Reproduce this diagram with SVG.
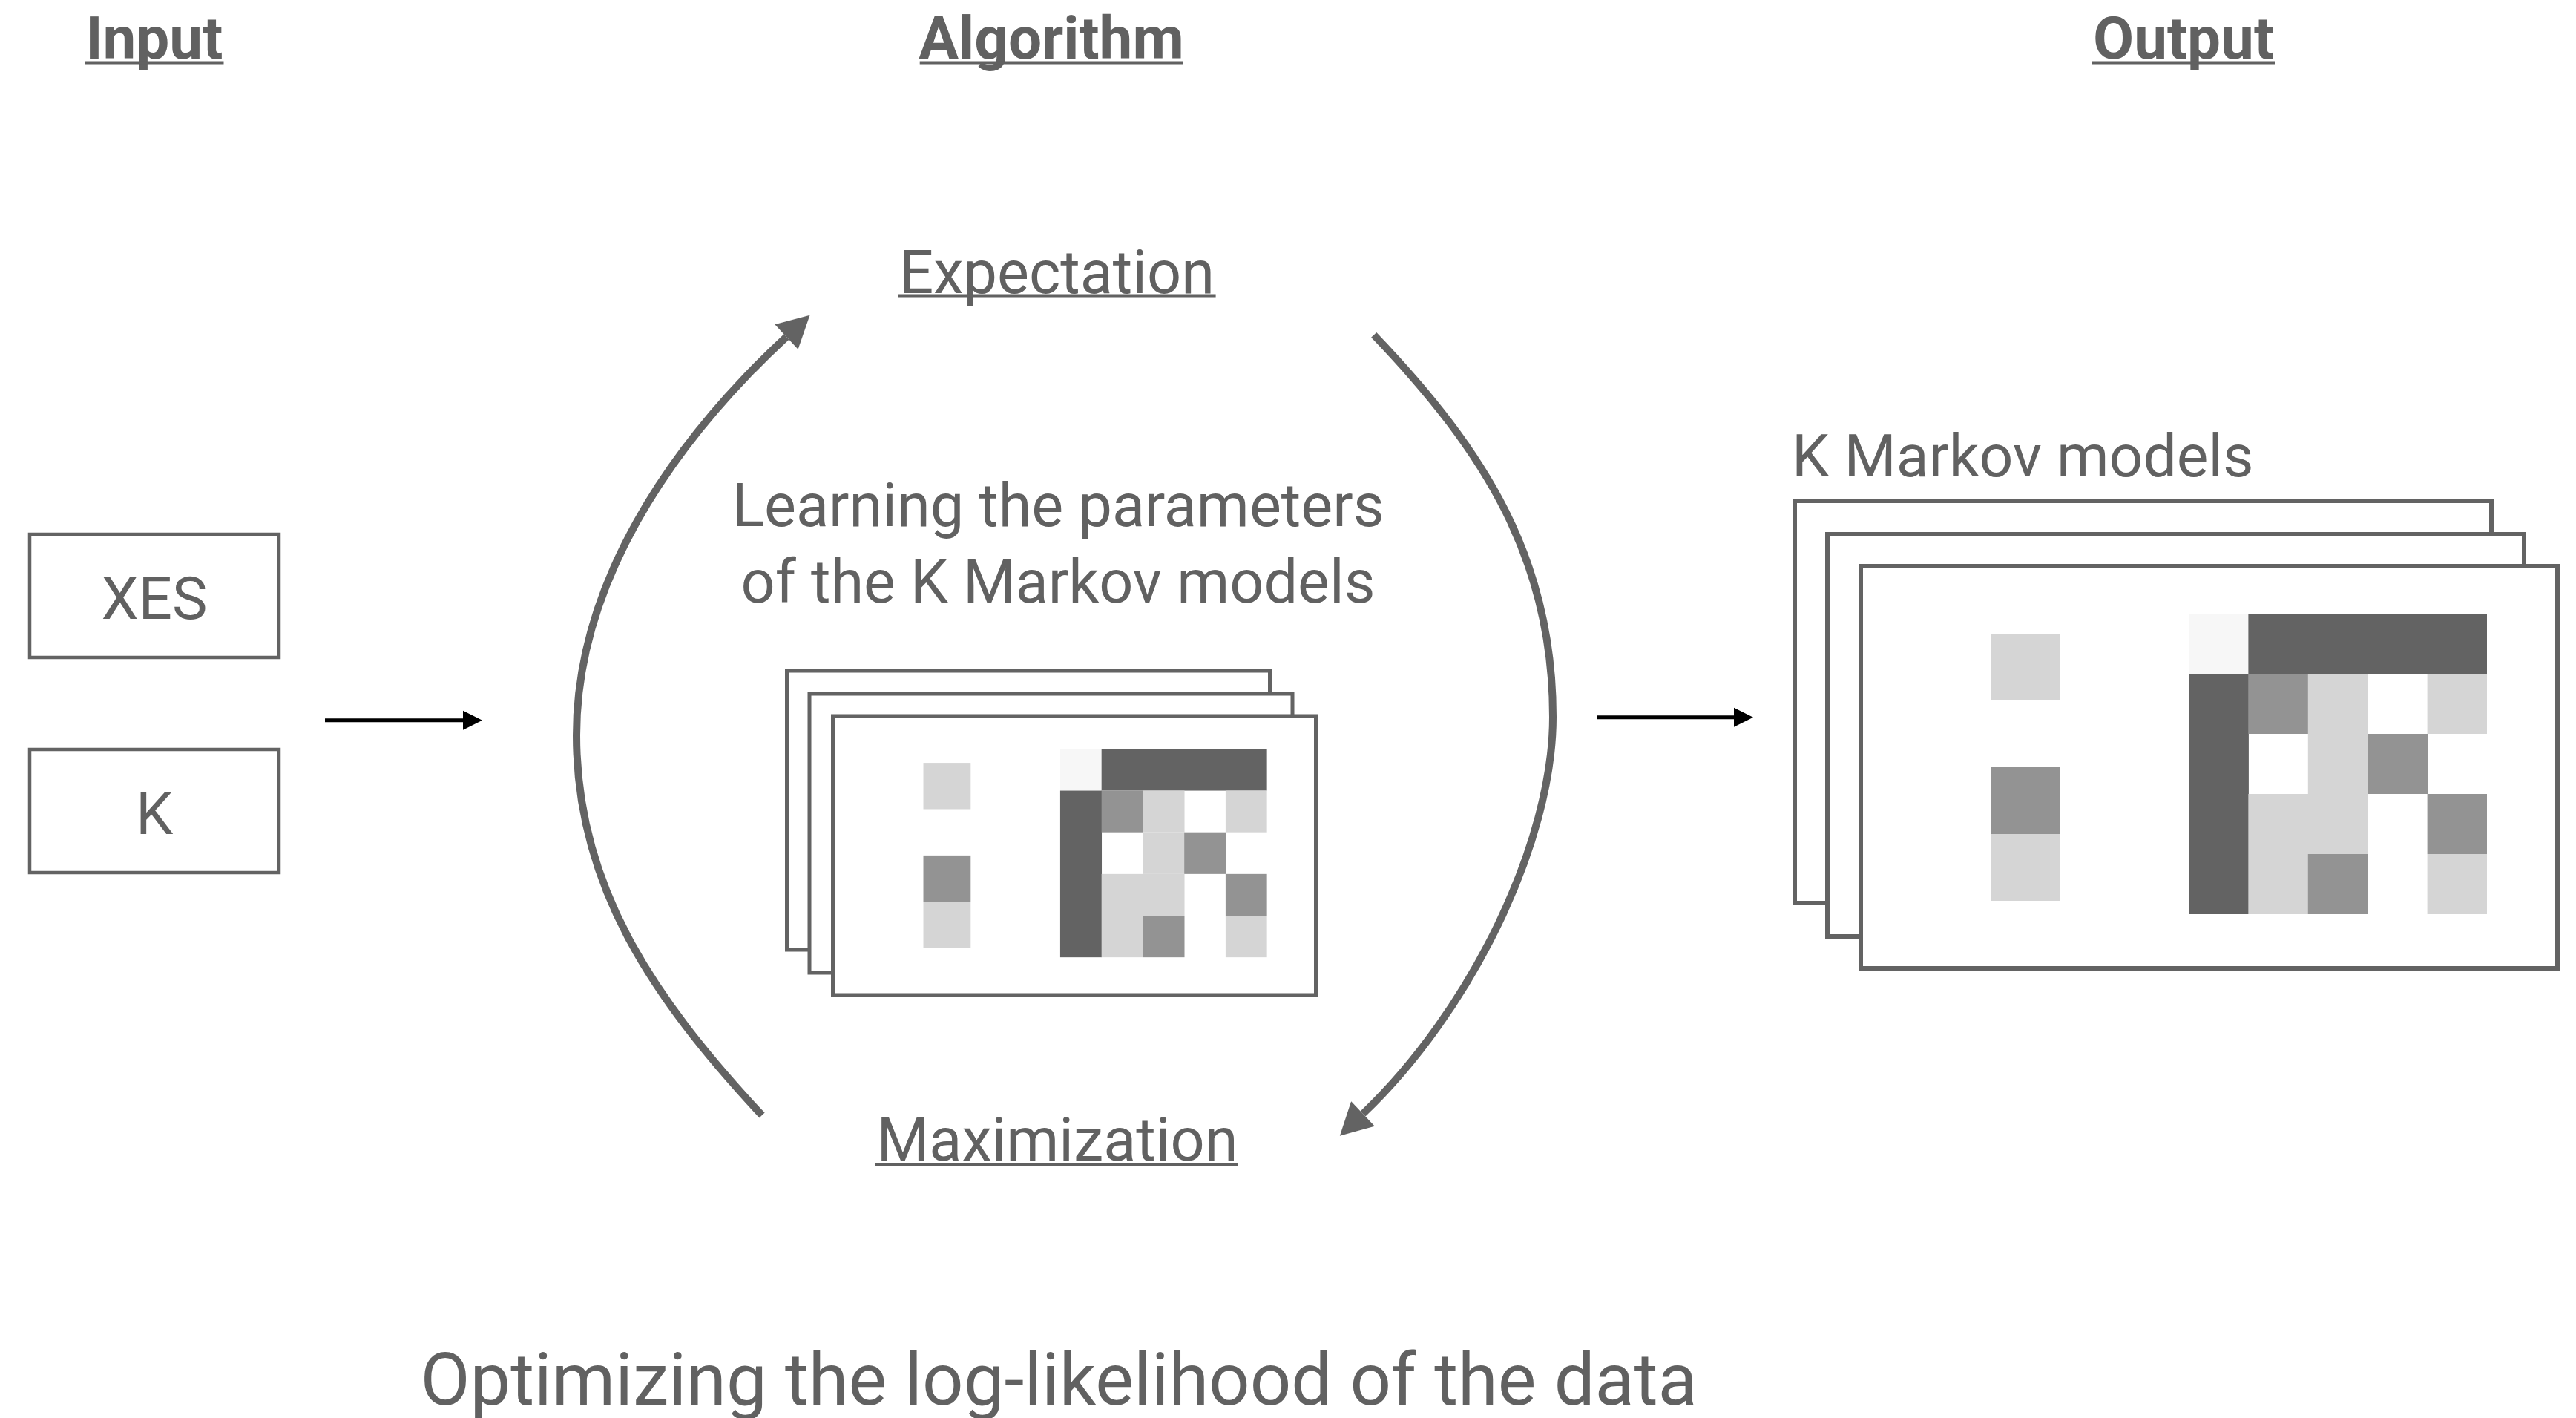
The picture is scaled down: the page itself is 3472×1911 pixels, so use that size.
<svg xmlns="http://www.w3.org/2000/svg" xmlns:xlink="http://www.w3.org/1999/xlink" width="3472" height="1911" viewBox="0 0 3472 1911">
<style>
  text { font-family: Roboto, "Liberation Sans", sans-serif; fill: #616161; }
  .title { font-size: 80px; font-weight: 700; text-anchor: middle; }
  .lbl { font-size: 81px; font-weight: 400; text-anchor: middle; }
  .ul { fill: #616161; }
  .box { fill: #ffffff; stroke: #636363; stroke-width: 4.5; }
  .card { fill: #ffffff; stroke: #636363; stroke-width: 5; }
  .bigcard { fill: #ffffff; stroke: #636363; stroke-width: 6; }
  .arc { fill: none; stroke: #636363; stroke-width: 10; }
  .flow { fill: none; stroke: #000000; stroke-width: 5; }
  .dk { fill: #636363; } .md { fill: #939393; } .lt { fill: #d5d5d5; } .vl { fill: #f7f7f7; }
</style>
<defs>
  <marker id="blackHead" markerUnits="userSpaceOnUse" markerWidth="30" markerHeight="30" refX="0" refY="13" orient="auto" overflow="visible">
    <path d="M0,0 L26,13 L0,26 Z" fill="#000000"/>
  </marker>
  <marker id="grayHead" markerUnits="userSpaceOnUse" markerWidth="50" markerHeight="50" refX="0" refY="23" orient="auto" overflow="visible">
    <path d="M0,0 L43,23 L0,46 Z" fill="#636363"/>
  </marker>
  <g id="cardContent">
    <rect class="lt" x="176" y="91" width="92" height="90"/>
    <rect class="md" x="176" y="271" width="92" height="91"/>
    <rect class="lt" x="176" y="361" width="92" height="90"/>
    <rect class="vl" x="442" y="64" width="81" height="81"/>
    <rect class="dk" x="522.4" y="64" width="321.6" height="81"/>
    <rect class="dk" x="442" y="145" width="80.9" height="324"/>
    <rect class="md" x="522.4" y="145" width="80.9" height="81"/>
    <rect class="lt" x="602.8" y="145" width="80.9" height="81"/>
    <rect class="lt" x="763.6" y="145" width="80.4" height="81"/>
    <rect class="lt" x="602.8" y="226" width="80.9" height="81"/>
    <rect class="md" x="683.2" y="226" width="80.9" height="81"/>
    <rect class="lt" x="522.4" y="307" width="161.3" height="81"/>
    <rect class="md" x="763.6" y="307" width="80.4" height="81"/>
    <rect class="lt" x="522.4" y="388" width="80.9" height="81"/>
    <rect class="md" x="602.8" y="388" width="80.9" height="81"/>
    <rect class="lt" x="763.6" y="388" width="80.4" height="81"/>
  </g>
</defs>

<rect x="0" y="0" width="3472" height="1911" fill="#ffffff"/>

<g id="header-input">
  <text class="title" x="207.7" y="79">Input</text>
  <rect class="ul" x="114" y="82.5" width="187.5" height="4"/>
</g>
<g id="header-algorithm">
  <text class="title" x="1417" y="79">Algorithm</text>
  <rect class="ul" x="1239.7" y="82.5" width="354.7" height="4"/>
</g>
<g id="header-output">
  <text class="title" x="2943" y="79">Output</text>
  <rect class="ul" x="2820" y="82.5" width="246" height="4"/>
</g>

<g id="node-xes">
  <rect class="box" x="40" y="720" width="336" height="166"/>
  <text class="lbl" x="208" y="834" style="font-size:80px">XES</text>
</g>
<g id="node-k">
  <rect class="box" x="40" y="1010" width="336" height="166"/>
  <text class="lbl" x="208" y="1124" style="font-size:80px">K</text>
</g>

<g id="node-expectation">
  <text class="lbl" x="1424.6" y="395">Expectation</text>
  <rect class="ul" x="1210.6" y="396.5" width="428" height="4"/>
</g>

<g id="node-learning">
  <text class="lbl" x="1426" y="709">Learning the parameters</text>
  <text class="lbl" x="1426" y="812">of the K Markov models</text>
  <rect class="card" x="1060.5" y="904" width="651" height="376"/>
  <rect class="card" x="1091" y="935" width="651" height="376"/>
  <rect class="card" x="1122.5" y="965" width="651" height="376"/>
  <use xlink:href="#cardContent" transform="translate(1122.5,965) scale(0.6933)"/>
</g>

<g id="node-maximization">
  <text class="lbl" x="1425" y="1564">Maximization</text>
  <rect class="ul" x="1180" y="1567" width="488" height="4"/>
</g>

<g id="node-output">
  <text x="2415" y="642" style="font-size:80.5px">K Markov models</text>
  <rect class="bigcard" x="2419" y="675" width="939" height="542"/>
  <rect class="bigcard" x="2463" y="720" width="939" height="542"/>
  <rect class="bigcard" x="2508" y="763" width="939" height="542"/>
  <use xlink:href="#cardContent" transform="translate(2508,763)"/>
</g>

<g id="caption">
  <text class="lbl" x="1427" y="1893" style="font-size:97.5px">Optimizing the log-likelihood of the data</text>
</g>

<g id="connectors">
  <line class="flow" x1="438" y1="970.7" x2="624" y2="970.7" marker-end="url(#blackHead)"/>
  <line class="flow" x1="2152" y1="966.7" x2="2337" y2="966.7" marker-end="url(#blackHead)"/>
  <path class="arc" d="M1027,1503 C877,1342 777,1191 777,991 C777,791 898.7,603.6 1060,454" marker-end="url(#grayHead)"/>
  <path class="arc" d="M1851.7,451.4 C2003.5,609.8 2093,756 2093,966 C2093,1136 1981.8,1363.2 1837,1501" marker-end="url(#grayHead)"/>
</g>
</svg>
